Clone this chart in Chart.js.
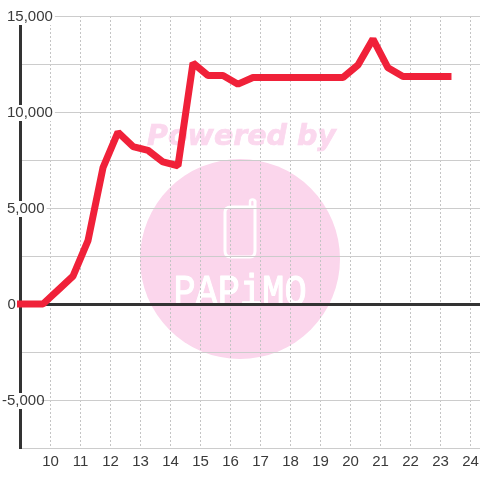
<!DOCTYPE html>
<html><head><meta charset="utf-8">
<style>html,body{margin:0;padding:0;background:#fff}#w{width:480px;height:480px}</style>
<script src="https://cdn.jsdelivr.net/npm/chart.js@4"></script>
</head><body><div id="w"><canvas id="c" width="480" height="480"></canvas></div>
<script>
const hours = [9,9.75,10.25,10.75,11.25,11.75,12.25,12.75,13.25,13.75,14.25,14.75,15.25,15.75,16.25,16.75,17.25,17.75,18.25,18.75,19.25,19.75,20.25,20.75,21.25,21.75,22.25,22.75,23.25];
const sales = [0,0,725,1450,3300,7100,8950,8200,8000,7400,7200,12550,11900,11900,11450,11800,11800,11800,11800,11800,11800,11800,12450,13800,12300,11850,11850,11850,11850];
const xTickLabels = ['10','11','12','13','14','15','16','17','18','19','20','21','22','23','24'];
const yTickLabels = ['-5,000','0','5,000','10,000','15,000'];
const yTickValues = [-5000,0,5000,10000,15000];
const TXT = '#3a3a3a', GRID = '#cccccc', AXIS = '#333333';
const font = {family:'"Liberation Sans", Arial, sans-serif', size:15};

const watermark = {
  id:'watermark',
  beforeDraw(chart){
    const c = chart.ctx; c.save();
    c.fillStyle = '#fbd6ec';
    c.beginPath(); c.arc(240,259,100,0,Math.PI*2); c.fill();
    c.fillStyle = '#fbd8ee'; c.strokeStyle='#fbd8ee'; c.lineWidth=0.7;
    c.font = 'italic bold 28.5px "DejaVu Sans"'; c.textAlign='center'; c.textBaseline='alphabetic';
    c.fillText('Powered by',241.5,145); c.strokeText('Powered by',241.5,145);
    c.strokeStyle='#fff'; c.lineWidth=3; c.lineCap='round'; c.lineJoin='round';
    c.beginPath();
    c.moveTo(254,207); c.lineTo(231,207); c.quadraticCurveTo(225,207,225,212);
    c.lineTo(225,251); c.quadraticCurveTo(225,257,231,257);
    c.lineTo(250,257); c.quadraticCurveTo(255,257,255,251); c.lineTo(255,201);
    c.stroke();
    c.lineWidth=2.5;
    c.beginPath(); c.moveTo(250,207); c.lineTo(250,202); c.arc(252.5,202,2.5,Math.PI,0); c.stroke();
    c.fillStyle='#fff'; c.strokeStyle='#fff'; c.lineWidth=0.9;
    c.save(); c.translate(240,305); c.scale(1,1.22);
    c.font='37px "Liberation Mono"'; c.textAlign='center'; c.textBaseline='alphabetic';
    c.fillText('PAPiMO',0,0); c.strokeText('PAPiMO',0,0);
    c.restore();
    c.restore();
  }
};
const nudgeLabels = {
  id:'nudgeLabels',
  beforeDraw(chart){
    const s = chart.scales.y;
    for (const it of s.getLabelItems()){
      if (it._moved) continue;
      it._moved = true;
      const b = it.options.backdrop;
      it.options.translation[1]+=1;
      if (b) b.top+=1;
      if (it.label==='-5,000'){ it.options.translation[0]-=5; if (b) b.left-=5; }
      if (it.label==='0'){ it.options.translation[0]+=0.5; }
    }
  }
};

new Chart(document.getElementById('c'),{
  type:'line',
  data:{datasets:[{
    data:hours.map((h,i)=>({x:h,y:sales[i]})),
    borderColor:'#f02139', borderWidth:7, borderCapStyle:'square', borderJoinStyle:'bevel',
    pointRadius:0, tension:0, fill:false, clip:false
  }]},
  plugins:[watermark,nudgeLabels],
  options:{
    responsive:false, animation:false,
    layout:{padding:{left:7,top:16,right:0,bottom:0}},
    plugins:{legend:{display:false},tooltip:{enabled:false},title:{display:false}},
    scales:{
      x:{
        type:'linear', min:9, max:24.317,
        afterFit(s){ s.height = 32; s.paddingLeft = 0; s.paddingRight = 0; },
        ticks:{stepSize:1,includeBounds:false,autoSkip:false,maxRotation:0,color:TXT,font,padding:5,
          callback(v){ return xTickLabels[v-10] ?? ''; }},
        grid:{color:ctx=>ctx.tick&&ctx.tick.value===9?'rgba(0,0,0,0)':'#c4c4c4',lineWidth:1,drawTicks:false},
        border:{display:true,color:GRID,width:1,dash:[2,2]}
      },
      y:{
        min:-7500, max:15000,
        afterFit(s){ s.width = 13.5; s.paddingTop = 0; s.paddingBottom = 0; },
        ticks:{stepSize:2500,autoSkip:false,color:TXT,font,mirror:true,padding:-13.5,
          showLabelBackdrop:true, backdropColor:'#fff', backdropPadding:{top:0,bottom:-2,left:0,right:2},
          callback(v){ const i=yTickValues.indexOf(v); return i<0?'':yTickLabels[i]; }},
        grid:{color:ctx=>ctx.tick&&ctx.tick.value===0?AXIS:GRID,
              lineWidth:ctx=>ctx.tick&&ctx.tick.value===0?3:1,drawTicks:false},
        border:{display:true,color:AXIS,width:3}
      }
    }
  }
});
</script></body></html>
